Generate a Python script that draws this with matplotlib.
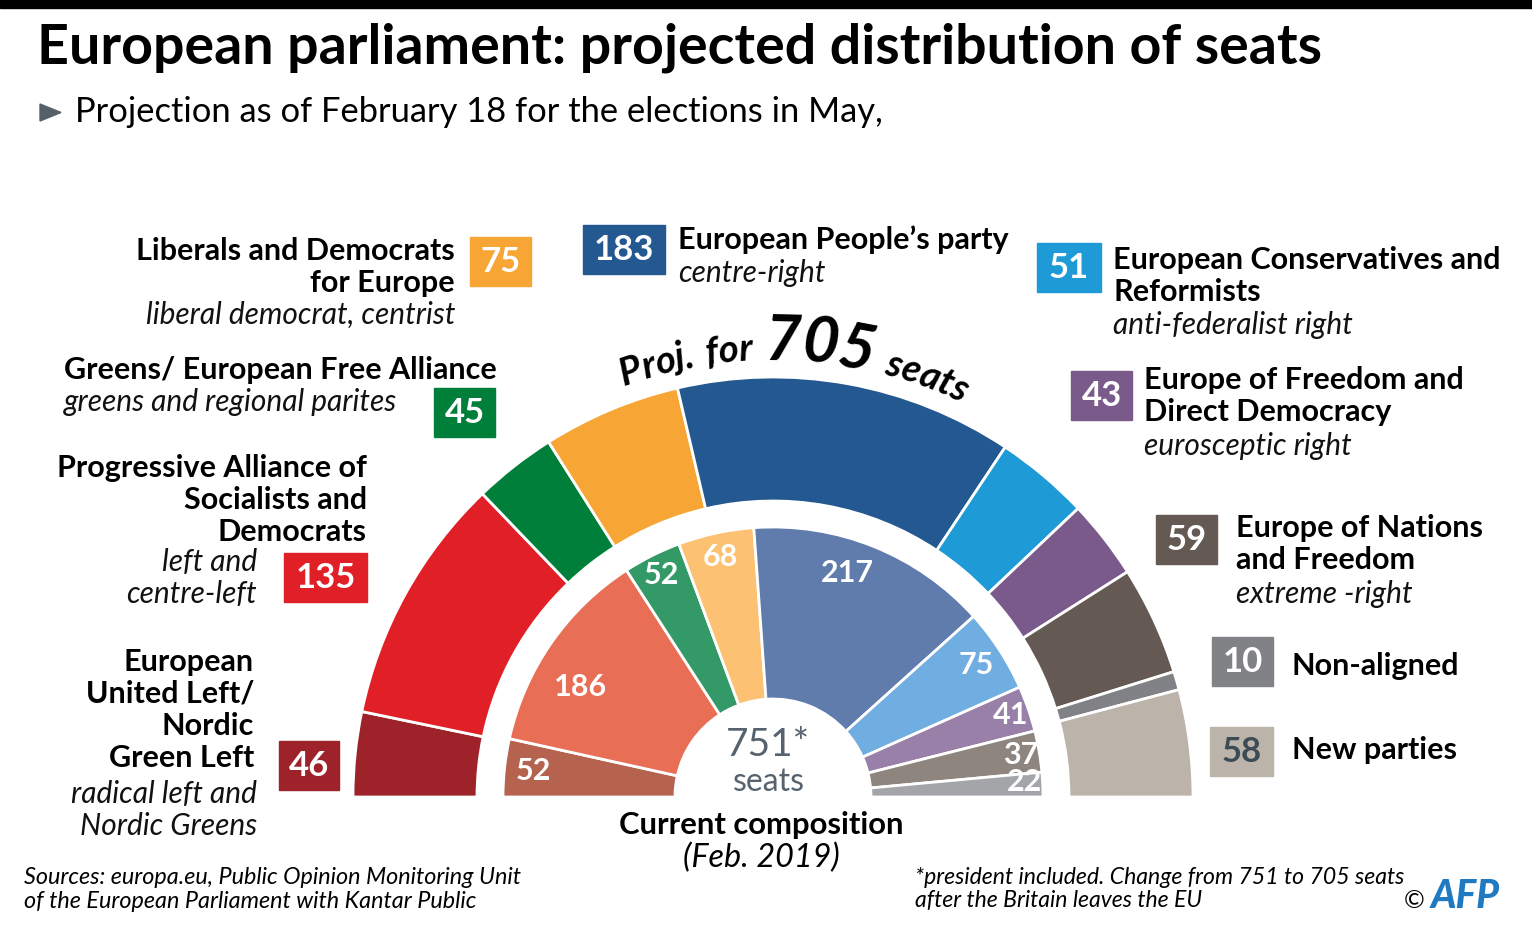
import numpy as np
import matplotlib
matplotlib.use("Agg")
import matplotlib.pyplot as plt
from matplotlib.patches import Wedge, Rectangle, Polygon

## data: projected seats (705), left to right
proj_seats = [46, 135, 45, 75, 183, 51, 43, 59, 10, 58]
proj_colors = ["#9e2229", "#e01f26", "#007f3b", "#f7a535", "#245890",
               "#1e9ad6", "#7a5a8a", "#645a53", "#808285", "#bcb3aa"]
proj_names = [
    ["European", "United Left/", "Nordic", "Green Left"],
    ["Progressive Alliance of", "Socialists and", "Democrats"],
    ["Greens/ European Free Alliance"],
    ["Liberals and Democrats", "for Europe"],
    ["European People\u2019s party"],
    ["European Conservatives and", "Reformists"],
    ["Europe of Freedom and", "Direct Democracy"],
    ["Europe of Nations", "and Freedom"],
    ["Non-aligned"],
    ["New parties"],
]
proj_desc = [
    ["radical left and", "Nordic Greens"],
    ["left and", "centre-left"],
    ["greens and regional parites"],
    ["liberal democrat, centrist"],
    ["centre-right"],
    ["anti-federalist right"],
    ["eurosceptic right"],
    ["extreme -right"],
    [],
    [],
]

## data: current composition (Feb. 2019)
cur_seats = [52, 186, 52, 68, 217, 75, 41, 37, 22]
cur_colors = ["#b5634f", "#e86f55", "#339a67", "#fcc172", "#5f7cac",
              "#70ade0", "#9880a8", "#8d857e", "#a3a5a8"]
cur_total = 751
proj_total = sum(proj_seats)

## layout (pixels, y down)
cx, cy = 773, 797
# box x, box y, box w, name x, name y, name align, desc x, desc y, desc align
layout = [
    (279, 741, 60, 254, 662, "right", 257, 794, "right"),
    (284, 553, 83, 367, 468, "right", 257, 562, "right"),
    (434, 388, 61, 64, 370, "left", 64, 402, "left"),
    (470, 237, 61, 455, 251, "right", 455, 315, "right"),
    (583, 225, 82, 678, 240, "left", 678, 273, "left"),
    (1037, 243, 64, 1113, 260, "left", 1113, 325, "left"),
    (1071, 371, 61, 1144, 380, "left", 1144, 446, "left"),
    (1156, 515, 61, 1236, 528, "left", 1236, 594, "left"),
    (1212, 637, 61, 1292, 666, "left", 0, 0, "left"),
    (1210, 727, 63, 1292, 750, "left", 0, 0, "left"),
]
cur_label_r = [241, 222, 248, 246, 236, 242, 251, 251, 252]
cur_label_shift = [0, -5, 0, 0, -3.5, 0, 0, 0, -0.8]

FONT = "Lato"
plt.rcParams["font.family"] = [FONT, "DejaVu Sans"]

fig = plt.figure(figsize=(15.32, 9.36), dpi=100)
ax = fig.add_axes([0, 0, 1, 1])
ax.set_xlim(0, 1532)
ax.set_ylim(936, 0)
ax.axis("off")

ax.add_patch(Rectangle((0, 0), 1532, 8, color="black"))

## title
ax.text(37, 48, "European parliament: projected distribution of seats",
        fontsize=40, fontweight="bold", va="center", ha="left", color="black")
ax.add_patch(Polygon([(40, 104), (40, 121), (61, 112.5)], color="#555f69"))
ax.text(75, 112, "Projection as of February 18 for the elections in May,",
        fontsize=24.8, va="center", ha="left", color="black")

## outer ring (projection)
start = 0
for s, c in zip(proj_seats, proj_colors):
    t1 = 180 + 180 * start / proj_total
    t2 = 180 + 180 * (start + s) / proj_total
    ax.add_patch(Wedge((cx, cy), 420, t1, t2, width=124, facecolor=c,
                       edgecolor="white", linewidth=2))
    start += s

## inner ring (current)
cur_sum = sum(cur_seats)
start = 0
for s, c, r, sh in zip(cur_seats, cur_colors, cur_label_r, cur_label_shift):
    t1 = 180 + 180 * start / cur_sum
    t2 = 180 + 180 * (start + s) / cur_sum
    ax.add_patch(Wedge((cx, cy), 270, t1, t2, width=172, facecolor=c,
                       edgecolor="white", linewidth=2))
    tm = np.radians((t1 + t2) / 2 + sh)
    ax.text(cx + r * np.cos(tm), cy + r * np.sin(tm), str(s), color="white",
            fontsize=22, fontweight="bold", ha="center", va="center")
    start += s

## centre texts
ax.text(768, 745, "751*", fontsize=28, color="#56636e", ha="center", va="center")
ax.text(769, 782, "seats", fontsize=23, color="#56636e", ha="center", va="center")
ax.text(761, 825, "Current composition", fontsize=22.3, fontweight="bold",
        ha="center", va="center")
ax.text(761, 858, "(Feb. 2019)", fontsize=23.3, style="italic",
        ha="center", va="center")

## party labels
line_h = 32
for i, (bx, by, bw, nx, ny, nha, dx, dy, dha) in enumerate(layout):
    ax.add_patch(Rectangle((bx, by), bw, 49, color=proj_colors[i]))
    num_col = "#3d4b57" if i == len(layout) - 1 else "white"
    ax.text(bx + bw / 2, by + 25, str(proj_seats[i]), color=num_col,
            fontsize=25, fontweight="bold", ha="center", va="center")
    for k, line in enumerate(proj_names[i]):
        ax.text(nx, ny + k * line_h, line, fontsize=22, fontweight="bold",
                ha=nha, va="center")
    for k, line in enumerate(proj_desc[i]):
        ax.text(dx, dy + k * line_h, line, fontsize=21.5, fontweight="normal",
                style="italic", ha=dha, va="center", color="#111111")

## curved "Proj. for 705 seats"
renderer = fig.canvas.get_renderer()
pieces = [("Proj. for ", 27.5), ("705", 45), (" seats", 27.5)]
chars = []
for txt, fs in pieces:
    for ch in txt:
        if ch == " ":
            w = fs * 100 / 72 * 0.3
        else:
            t = ax.text(0, 0, ch, fontsize=fs, fontweight="bold", style="italic")
            w = t.get_window_extent(renderer=renderer).width
            t.remove()
        chars.append((ch, fs, w))
R = 437
total_w = sum(c[2] for c in chars)
theta = np.radians(87.2) + total_w / R / 2
for ch, fs, w in chars:
    th = theta - (w / 2) / R
    if ch != " ":
        ax.text(cx + R * np.cos(th), cy - R * np.sin(th), ch, fontsize=fs,
                fontweight="bold", style="italic", ha="center", va="baseline",
                rotation=np.degrees(th) - 90, rotation_mode="anchor")
    theta -= w / R

## footer
ax.text(24, 877, "Sources: europa.eu, Public Opinion Monitoring Unit",
        fontsize=16.8, style="italic", va="center")
ax.text(24, 901, "of the European Parliament with Kantar Public",
        fontsize=16.8, style="italic", va="center")
ax.text(915, 877, "*president included. Change from 751 to 705 seats",
        fontsize=16.6, style="italic", va="center")
ax.text(915, 901, "after the Britain leaves the EU",
        fontsize=16.6, style="italic", va="center")
ax.text(1404, 900, "\u00a9", fontsize=18, va="center")
ax.text(1431, 896, "AFP", fontsize=28, fontweight="black", style="italic",
        color="#1f7ac2", va="center")

fig.savefig("out.png", dpi=100)
